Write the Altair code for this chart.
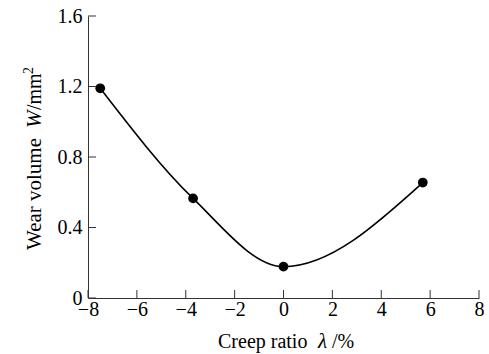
import altair as alt
import pandas as pd

# Data
creep_ratio = [-7.5, -3.7, 0.0, 5.7]
wear_volume = [1.19, 0.565, 0.178, 0.655]

x_ticks = [-8, -6, -4, -2, 0, 2, 4, 6, 8]
y_ticks = [0, 0.4, 0.8, 1.2, 1.6]

W, H = 391, 282
FONT = "Liberation Serif"
FS = 20
TFS = 20

df = pd.DataFrame({"x": creep_ratio, "y": wear_volume})
xt = pd.DataFrame({"t": x_ticks})
yt = pd.DataFrame({"t": y_ticks})
one = pd.DataFrame({"a": [0]})

xscale = alt.Scale(domain=[-8, 8], nice=False, zero=False)
yscale = alt.Scale(domain=[0, 1.6], nice=False)

xaxis = alt.Axis(values=x_ticks, ticks=False, grid=False, title=None,
                 labelFont=FONT, labelFontSize=FS, labelColor="black",
                 labelPadding=1, domainColor="#333", domainWidth=1,
                 labelFlush=False, labelOverlap=False)
yaxis = alt.Axis(values=y_ticks, ticks=False, grid=False, title=None,
                 labelFont=FONT, labelFontSize=FS, labelColor="black",
                 labelPadding=6, domainColor="#333", domainWidth=1,
                 labelFlush=False, labelOverlap=False,
                 labelExpr="datum.value == 0 ? '0\u00a0' : format(datum.value, '.1f')")

base = alt.Chart(df)

line = base.mark_line(interpolate="monotone", color="black", strokeWidth=1.6).encode(
    x=alt.X("x:Q", scale=xscale, axis=xaxis),
    y=alt.Y("y:Q", scale=yscale, axis=yaxis),
)
pts = base.mark_point(filled=True, color="black", size=95, opacity=1).encode(
    x=alt.X("x:Q", scale=xscale),
    y=alt.Y("y:Q", scale=yscale),
)

xtick_marks = alt.Chart(xt).mark_rule(color="#333", strokeWidth=1).encode(
    x=alt.X("t:Q", scale=xscale),
    y=alt.value(H),
    y2=alt.value(H - 8),
)
ytick_marks = alt.Chart(yt).mark_rule(color="#333", strokeWidth=1).encode(
    y=alt.Y("t:Q", scale=yscale),
    x=alt.value(0),
    x2=alt.value(8),
)

def txt(s, x, y, angle=0, italic=False, size=TFS):
    kw = dict(text=s, font=FONT, fontSize=size, color="black", align="left",
              baseline="alphabetic")
    if angle:
        kw["angle"] = angle
    if italic:
        kw["fontStyle"] = "italic"
    return alt.Chart(one).mark_text(**kw).encode(x=alt.value(x), y=alt.value(y))

# y title (plot-area coordinates; plot origin at page x=88, y=16)
ytitle = [
    txt("Wear volume", -47, 234, angle=270, size=21),
    txt("W", -47, 112, angle=270, italic=True, size=21),
    txt("/mm", -47, 94, angle=270),
    txt("2", -55, 58, angle=270, size=14),
]
xtitle = [
    txt("Creep ratio", 130, 332),
    txt("\u03bb", 230, 332, italic=True, size=21),
    txt("/%", 244, 332),
]

chart = alt.layer(line, pts, xtick_marks, ytick_marks, *ytitle, *xtitle).properties(
    width=W, height=H,
    autosize=alt.AutoSizeParams(type="none"),
    padding={"left": 88, "top": 16, "right": 10, "bottom": 56},
    background="white",
).configure_view(stroke=None)

chart.save("out.html", embed_options={"renderer": "svg", "actions": False})
